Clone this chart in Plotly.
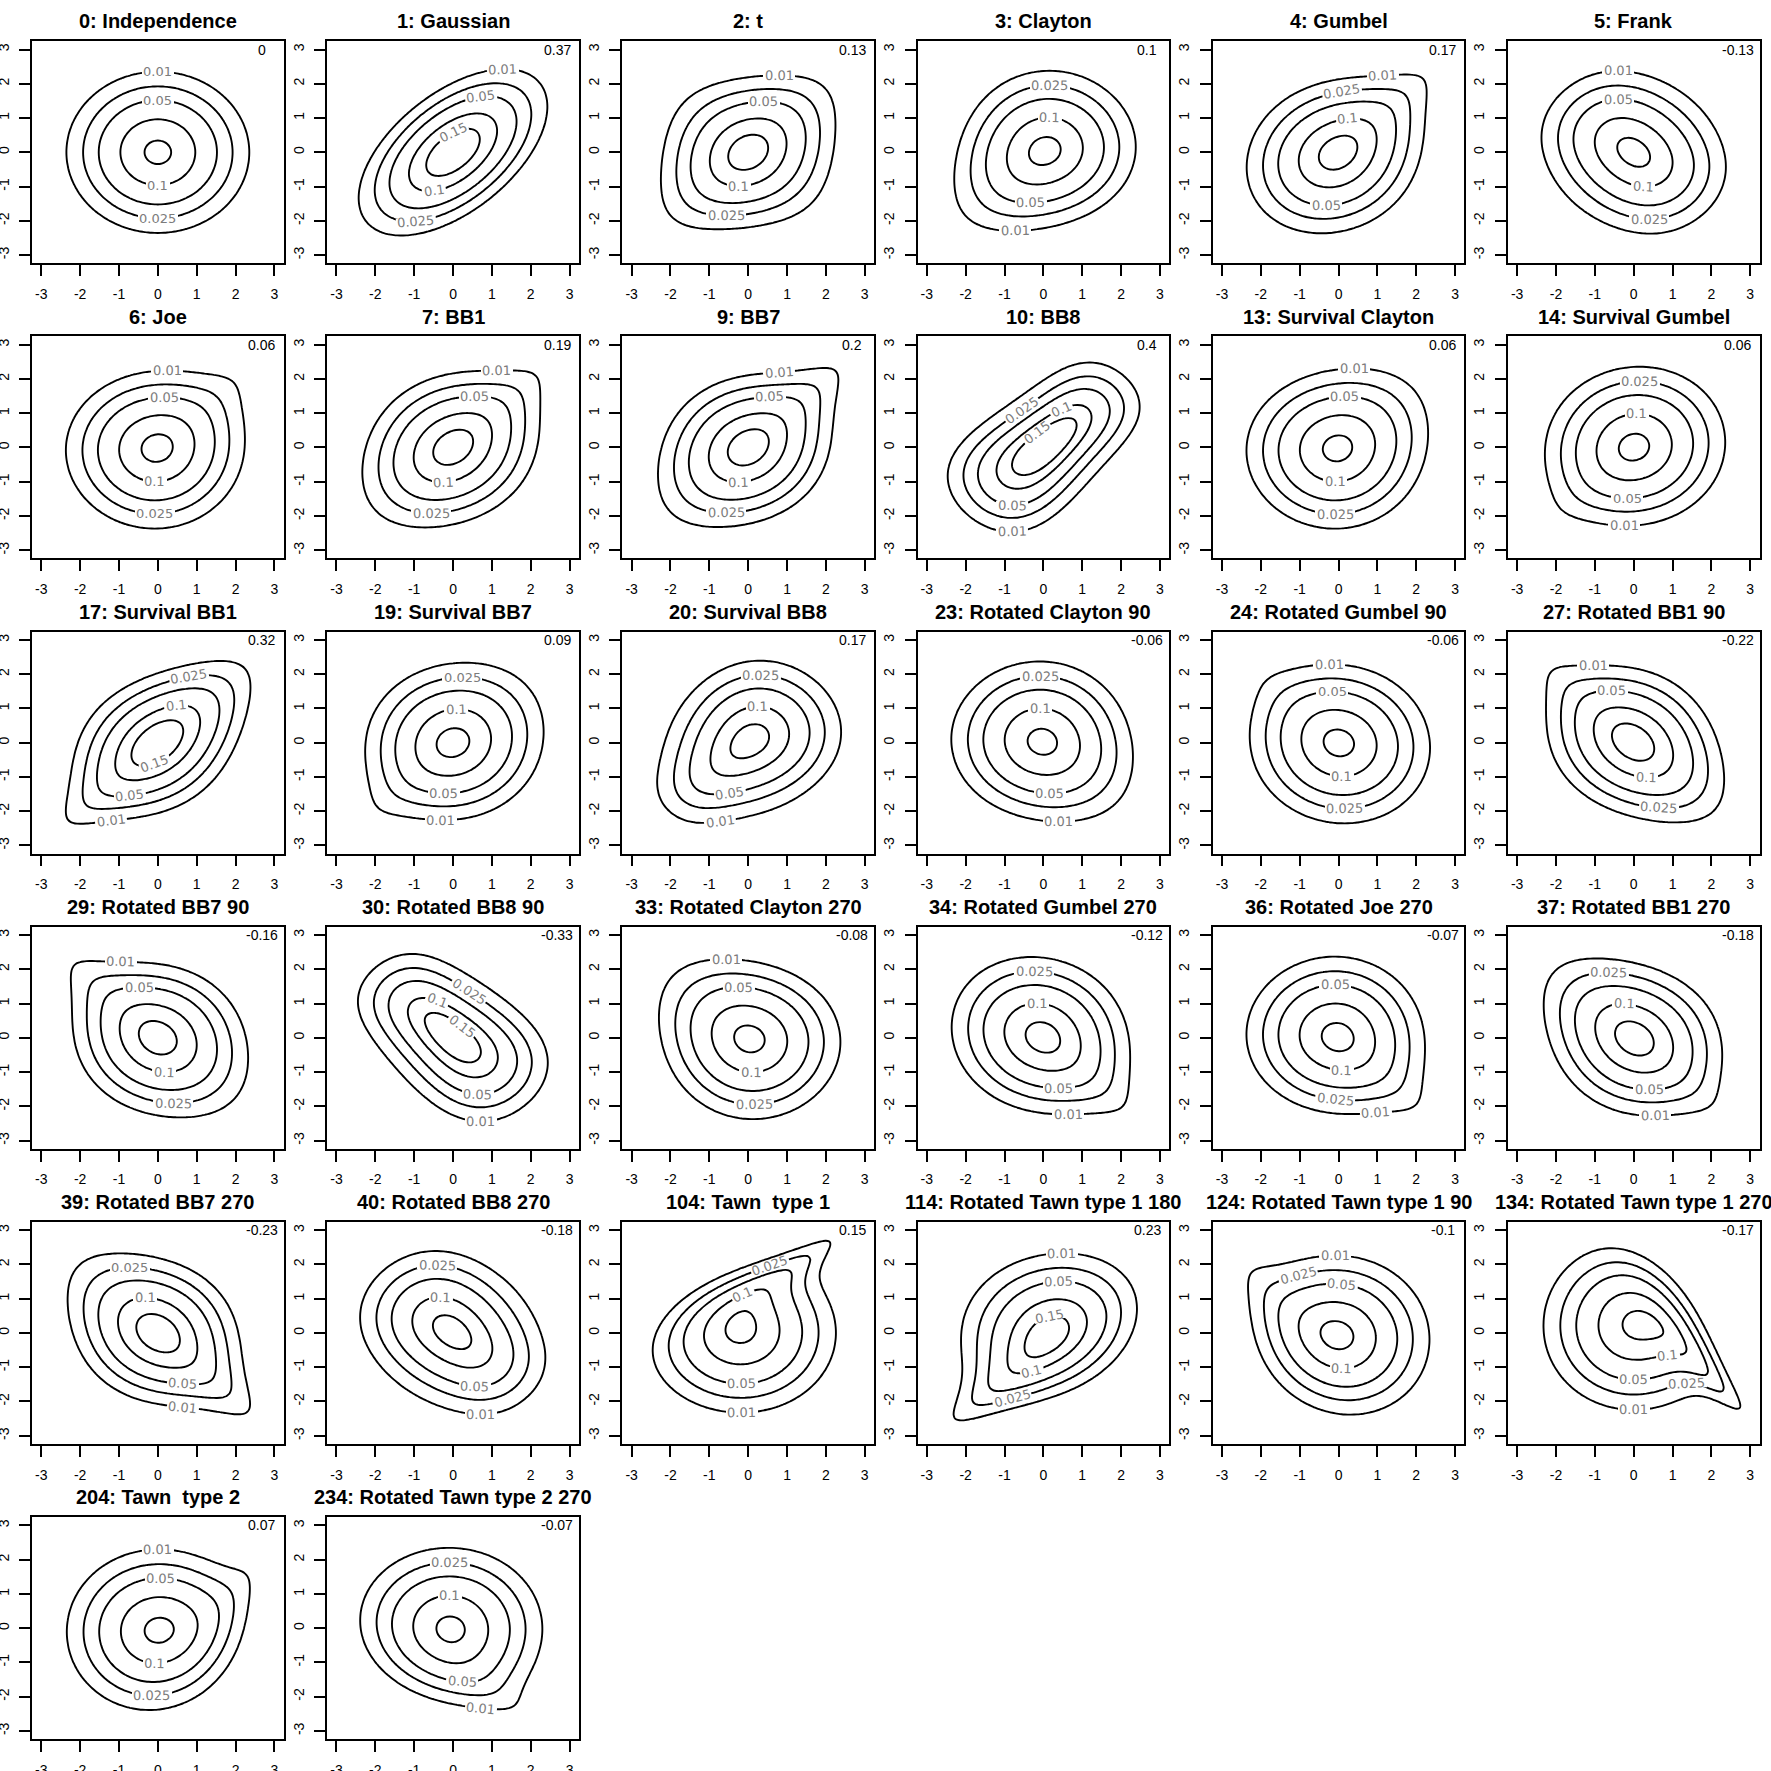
import math
import numpy as np
import plotly.graph_objects as go

# ---------------- data ----------------
FAMILIES = [0, 1, 2, 3, 4, 5, 6, 7, 9, 10, 13, 14, 17, 19, 20, 23, 24, 27,
            29, 30, 33, 34, 36, 37, 39, 40, 104, 114, 124, 134, 204, 234]
FAMILY_NAMES = ["Independence", "Gaussian", "t", "Clayton", "Gumbel", "Frank",
                "Joe", "BB1", "BB7", "BB8", "Survival Clayton", "Survival Gumbel",
                "Survival BB1", "Survival BB7", "Survival BB8", "Rotated Clayton 90",
                "Rotated Gumbel 90", "Rotated BB1 90", "Rotated BB7 90", "Rotated BB8 90",
                "Rotated Clayton 270", "Rotated Gumbel 270", "Rotated Joe 270",
                "Rotated BB1 270", "Rotated BB7 270", "Rotated BB8 270",
                "Tawn  type 1", "Rotated Tawn type 1 180", "Rotated Tawn type 1 90",
                "Rotated Tawn type 1 270", "Tawn  type 2", "Rotated Tawn type 2 270"]
TAU_LABELS = ["0", "0.37", "0.13", "0.1", "0.17", "-0.13", "0.06", "0.19", "0.2", "0.4",
              "0.06", "0.06", "0.32", "0.09", "0.17", "-0.06", "-0.06", "-0.22",
              "-0.16", "-0.33", "-0.08", "-0.12", "-0.07", "-0.18", "-0.23", "-0.18",
              "0.15", "0.23", "-0.1", "-0.17", "0.07", "-0.07"]
# estimated shape parameter of the families (t: df, BB1: theta, BB7: delta,
# BB8: theta, Tawn: psi); the remaining parameter follows from Kendall's tau
SHAPE_PAR = [0, 0, 7, 0, 0, 0, 0, 0.1, 0.2, 6.0, 0, 0, 0.3, 0.08, 1.6, 0, 0, 0.2,
             0.15, 5.0, 0, 0, 0, 0.2, 0.25, 3.0, 0.2, 0.5, 0.3, 0.22, 0.15, 0.15]
LEVELS = [0.01, 0.025, 0.05, 0.1, 0.15]
TICK_VALUES = [-3, -2, -1, 0, 1, 2, 3]
TICK_TEXT = ["-3", "-2", "-1", "0", "1", "2", "3"]

FONT = "Liberation Sans, Arial, Helvetica, sans-serif"
LABEL_FONT = "DejaVu Sans, Verdana, sans-serif"

# ---------------- helpers ----------------
_erfc = np.vectorize(math.erfc)


def Phi(x):
    return 0.5 * _erfc(-np.asarray(x, float) / math.sqrt(2.0))


def phi(x):
    return np.exp(-0.5 * x * x) / math.sqrt(2 * math.pi)


def decode(fam):
    if fam == 0:
        return 0, 0
    if fam >= 200:
        base, k = 204, (fam - 200) // 10
    elif fam >= 100:
        base, k = 104, (fam - 100) // 10
    else:
        k = (fam - 1) // 10
        base = fam - 10 * k
    return base, [0, 180, 90, 270][k]


def make_cdf(base, a, b):
    if base == 0:
        return lambda u, v: u * v
    if base == 3:
        return lambda u, v: (u ** (-a) + v ** (-a) - 1.0) ** (-1.0 / a)
    if base == 4:
        return lambda u, v: np.exp(-((-np.log(u)) ** a + (-np.log(v)) ** a) ** (1.0 / a))
    if base == 5:
        return lambda u, v: -np.log1p(np.expm1(-a * u) * np.expm1(-a * v) / np.expm1(-a)) / a
    if base == 6:
        def f(u, v):
            x = (1 - u) ** a
            y = (1 - v) ** a
            return 1 - (x + y - x * y) ** (1.0 / a)
        return f
    if base == 7:
        return lambda u, v: (1 + ((u ** (-a) - 1) ** b + (v ** (-a) - 1) ** b) ** (1.0 / b)) ** (-1.0 / a)
    if base == 9:
        def f(u, v):
            x = (1 - (1 - u) ** a) ** (-b)
            y = (1 - (1 - v) ** a) ** (-b)
            return 1 - (1 - (x + y - 1) ** (-1.0 / b)) ** (1.0 / a)
        return f
    if base == 10:
        eta = 1 - (1 - b) ** a

        def f(u, v):
            s = (1 - (1 - b * u) ** a) * (1 - (1 - b * v) ** a) / eta
            return (1 - (1 - s) ** (1.0 / a)) / b
        return f
    if base in (104, 204):
        p1, p2 = (b, 1.0) if base == 104 else (1.0, b)

        def f(u, v):
            lu = -np.log(u)
            lv = -np.log(v)
            return np.exp(-(1 - p1) * lu - (1 - p2) * lv
                          - ((p1 * lu) ** a + (p2 * lv) ** a) ** (1.0 / a))
        return f
    raise ValueError(base)


# numeric Kendall's tau (tau = 4 E[C(U,V)] - 1) on a normal-margin grid
_xe = np.linspace(-5, 5, 161)
_xc = 0.5 * (_xe[1:] + _xe[:-1])
_ue = Phi(_xe)
_uc = Phi(_xc)


def tau_num(cdf):
    F = cdf(_ue[:, None], _ue[None, :])
    P = F[1:, 1:] - F[1:, :-1] - F[:-1, 1:] + F[:-1, :-1]
    Cc = cdf(_uc[:, None], _uc[None, :])
    return 4.0 * np.sum(Cc * P) - 1.0


def bisect(fun, target, lo, hi, n=40):
    for _ in range(n):
        mid = 0.5 * (lo + hi)
        if fun(mid) < target:
            lo = mid
        else:
            hi = mid
    return 0.5 * (lo + hi)


def params_for(base, t, shape):
    if base == 0:
        return 0.0, 0.0
    if base in (1, 2):
        return math.sin(math.pi * t / 2), shape
    if base == 3:
        return 2 * t / (1 - t), 0.0
    if base == 4:
        return 1 / (1 - t), 0.0
    if base == 5:
        if t < 0:
            return bisect(lambda a: tau_num(make_cdf(5, a, 0)), t, -25.0, -1e-3), 0.0
        return bisect(lambda a: tau_num(make_cdf(5, a, 0)), t, 1e-3, 25.0), 0.0
    if base == 6:
        return bisect(lambda a: tau_num(make_cdf(6, a, 0)), t, 1.0, 25.0), 0.0
    if base == 7:
        return shape, 2 / ((1 - t) * (shape + 2))
    if base == 9:
        return bisect(lambda a: tau_num(make_cdf(9, a, shape)), t, 1.0, 6.0), shape
    if base == 10:
        return shape, bisect(lambda d: tau_num(make_cdf(10, shape, d)), t, 1e-3, 1.0)
    if base in (104, 204):
        s = bisect(lambda s: tau_num(make_cdf(base, math.exp(s), shape)), t, 0.0, math.log(80.0))
        return math.exp(s), shape
    raise ValueError(base)


# display grid
XS = np.linspace(-3.2, 3.2, 81)
HD = 0.02
_um = Phi(XS - HD / 2)
_up = Phi(XS + HD / 2)


def density_grid(base, a, b):
    X, Y = np.meshgrid(XS, XS, indexing="ij")
    if base == 1:
        r = a
        return np.exp(-(X * X - 2 * r * X * Y + Y * Y) / (2 * (1 - r * r))) / (2 * math.pi * math.sqrt(1 - r * r))
    if base == 2:
        r, nu = a, b
        tt = np.linspace(0, 80, 80001)
        c1 = math.gamma((nu + 1) / 2) / (math.sqrt(nu * math.pi) * math.gamma(nu / 2))
        pdf = c1 * (1 + tt * tt / nu) ** (-(nu + 1) / 2)
        cdf = 0.5 + np.concatenate([[0.0], np.cumsum(0.5 * (pdf[1:] + pdf[:-1]) * np.diff(tt))])
        q = np.sign(XS) * np.interp(Phi(np.abs(XS)), cdf, tt)
        Q1, Q2 = np.meshgrid(q, q, indexing="ij")
        f2 = (1 + (Q1 * Q1 - 2 * r * Q1 * Q2 + Q2 * Q2) / (nu * (1 - r * r))) ** (-(nu + 2) / 2) \
            / (2 * math.pi * math.sqrt(1 - r * r))
        f1 = lambda z: c1 * (1 + z * z / nu) ** (-(nu + 1) / 2)
        return f2 / (f1(Q1) * f1(Q2)) * phi(X) * phi(Y)
    C = make_cdf(base, a, b)
    G = (C(_up[:, None], _up[None, :]) - C(_up[:, None], _um[None, :])
         - C(_um[:, None], _up[None, :]) + C(_um[:, None], _um[None, :])) / (HD * HD)
    return G


def rotate(G, rot):
    if rot == 180:
        return G[::-1, ::-1]
    if rot == 90:
        return G[:, ::-1].T
    if rot == 270:
        return G[::-1, :].T
    return G


# contour level groups (plotly needs evenly spaced levels per trace)
LEVEL_GROUPS = [[LEVELS[0]], [LEVELS[1]], LEVELS[2:]]

# ---------------- layout geometry ----------------
W = H = 1771
CELL = W / 6.0
BOX_L, BOX_W = 32.0, 251.7
BOX_T, BOX_H = 41.3, 222.0
RNG = [-3.24, 3.24]
SX = BOX_W / (RNG[1] - RNG[0])
SY = BOX_H / (RNG[1] - RNG[0])

LABEL_FS = 13
LABEL_COLOR = "#7c7c7c"
CHAR_W = {".": 0.318}
PERIM_FACTOR = 4.55
TILT_COST = 1.2


# ---------------- contour labels (R "flattest"-like placement) ----------------
def crossings(G, L, arrs):
    D = G - L
    i, j = np.nonzero(D[:-1, :] * D[1:, :] < 0)
    t = D[i, j] / (D[i, j] - D[i + 1, j])
    xa = XS[i] + t * (XS[i + 1] - XS[i])
    ya = XS[j]
    va = [A[i, j] + t * (A[i + 1, j] - A[i, j]) for A in arrs]
    i2, j2 = np.nonzero(D[:, :-1] * D[:, 1:] < 0)
    t2 = D[i2, j2] / (D[i2, j2] - D[i2, j2 + 1])
    xb = XS[i2]
    yb = XS[j2] + t2 * (XS[j2 + 1] - XS[j2])
    vb = [A[i2, j2] + t2 * (A[i2, j2 + 1] - A[i2, j2]) for A in arrs]
    return (np.r_[xa, xb], np.r_[ya, yb], [np.r_[p, q] for p, q in zip(va, vb)])


def rect(cx, cy, ang, w, h):
    c, s = math.cos(ang), math.sin(ang)
    pts = []
    for dx, dy in ((-w / 2, -h / 2), (w / 2, -h / 2), (w / 2, h / 2), (-w / 2, h / 2)):
        pts.append((cx + dx * c - dy * s, cy + dx * s + dy * c))
    return pts


def overlap(r1, r2):
    for rr in (r1, r2):
        for k in range(2):
            ex = rr[k + 1][0] - rr[k][0]
            ey = rr[k + 1][1] - rr[k][1]
            nx, ny = -ey, ex
            p1 = [px * nx + py * ny for px, py in r1]
            p2 = [px * nx + py * ny for px, py in r2]
            if max(p1) < min(p2) or max(p2) < min(p1):
                return False
    return True


def label_width(txt):
    return LABEL_FS * sum(CHAR_W.get(ch, 0.636) for ch in txt)


def place_labels(G, xa, ya, annotations):
    gx, gy = np.gradient(G, XS, XS)
    gxx, gxy = np.gradient(gx, XS, XS)
    gyy = np.gradient(gy, XS, XS)[1]
    im = np.unravel_index(np.argmax(G), G.shape)
    xm, ym = XS[im[0]], XS[im[1]]
    placed = []
    lim_x = RNG[1] * SX - 3
    lim_y = RNG[1] * SY - 3
    for L in LEVELS:
        txt = f"{L:g}"
        w = label_width(txt)
        x, y, (fx, fy, fxx, fxy, fyy) = crossings(G, L, [gx, gy, gxx, gxy, gyy])
        if len(x) < 6:
            continue
        PX, PY = x * SX, y * SY
        o = np.argsort(np.arctan2(PY - ym * SY, PX - xm * SX))
        qx, qy = PX[o], PY[o]
        perim = float(np.sum(np.hypot(np.diff(np.r_[qx, qx[0]]), np.diff(np.r_[qy, qy[0]]))))
        if perim < PERIM_FACTOR * w:
            continue
        fX, fY = fx / SX, fy / SY
        fXX, fYY, fXY = fxx / SX ** 2, fyy / SY ** 2, fxy / (SX * SY)
        kap = np.abs(fXX * fY ** 2 - 2 * fXY * fX * fY + fYY * fX ** 2) / \
            np.maximum((fX ** 2 + fY ** 2) ** 1.5, 1e-300)
        Wm = np.hypot(PX[:, None] - PX[None, :], PY[:, None] - PY[None, :]) <= w / 2
        turn = w * (Wm * kap[None, :]).sum(1) / Wm.sum(1)
        angs = np.arctan2(fX, -fY)
        angs = np.where(angs > math.pi / 2, angs - math.pi, angs)
        angs = np.where(angs <= -math.pi / 2, angs + math.pi, angs)
        score = turn + TILT_COST * np.abs(np.sin(angs)) - 0.002 * y
        for idx in np.argsort(score):
            ang = float(angs[idx])
            rr = rect(PX[idx], PY[idx], ang, w + 6, 20)
            if any(abs(px) > lim_x or abs(py) > lim_y for px, py in rr):
                continue
            if any(overlap(rr, q) for q in placed):
                continue
            placed.append(rr)
            deg = -math.degrees(ang)
            annotations.append(dict(
                xref=xa, yref=ya, x=float(x[idx]), y=float(y[idx]), text=" ",
                width=w + 3, height=9, bgcolor="white", borderpad=0, borderwidth=0,
                textangle=deg, showarrow=False, xanchor="center", yanchor="middle",
                font=dict(size=4)))
            annotations.append(dict(
                xref=xa, yref=ya, x=float(x[idx]), y=float(y[idx]), text=txt,
                textangle=deg, showarrow=False, xanchor="center", yanchor="middle",
                font=dict(size=LABEL_FS, color=LABEL_COLOR, family=LABEL_FONT)))
            break


fig = go.Figure()
annotations = []
layout_axes = {}

with np.errstate(all="ignore"):
    for k, fam in enumerate(FAMILIES):
        r, c = divmod(k, 6)
        n = k + 1
        xa = "x" if n == 1 else f"x{n}"
        ya = "y" if n == 1 else f"y{n}"
        base, rot = decode(fam)
        tau = float(TAU_LABELS[k])
        tau_eff = -tau if rot in (90, 270) else tau
        a, b = params_for(base, tau_eff, SHAPE_PAR[k])
        G = np.ascontiguousarray(rotate(density_grid(base, a, b), rot))
        Z = np.ascontiguousarray(G.T).astype(np.float32)

        for grp in LEVEL_GROUPS:
            start, end = grp[0], grp[-1]
            size = (end - start) / (len(grp) - 1) if len(grp) > 1 else 1.0
            fig.add_trace(go.Contour(
                x=XS, y=XS, z=Z, xaxis=xa, yaxis=ya,
                autocontour=False,
                contours=dict(start=start, end=end, size=size, coloring="none",
                              showlabels=False),
                line=dict(color="black", width=1.9, smoothing=1.0),
                showscale=False, hoverinfo="skip"))

        x0 = (BOX_L + c * CELL) / W
        x1 = x0 + BOX_W / W
        top = BOX_T + r * CELL
        y1 = 1 - top / H
        y0 = 1 - (top + BOX_H) / H
        common = dict(range=RNG, tickvals=TICK_VALUES, ticktext=TICK_TEXT,
                      ticks="outside", ticklen=11, tickwidth=1.6, tickcolor="black",
                      showline=True, mirror=True, linecolor="black", linewidth=1.7,
                      showgrid=False, zeroline=False, fixedrange=True, automargin=False,
                      tickfont=dict(size=14, color="black", family=FONT))
        layout_axes["xaxis" if n == 1 else f"xaxis{n}"] = dict(
            domain=[x0, x1], anchor=ya, ticklabelstandoff=6, **common)
        layout_axes["yaxis" if n == 1 else f"yaxis{n}"] = dict(
            domain=[y0, y1], anchor=xa, tickangle=-90, ticklabelstandoff=5, **common)

        place_labels(G, xa, ya, annotations)

        annotations.append(dict(
            xref="paper", yref="paper", x=(x0 + x1) / 2, y=1 - (r * CELL + 21.5) / H,
            xanchor="center", yanchor="middle", showarrow=False,
            text=f"<b>{fam}: {FAMILY_NAMES[k]}</b>",
            font=dict(size=20, color="black", family=FONT)))
        annotations.append(dict(
            xref=xa, yref=ya, x=2.68, y=3.0, xanchor="center", yanchor="middle",
            showarrow=False, text=TAU_LABELS[k],
            font=dict(size=14, color="black", family=FONT)))

fig.update_layout(width=W, height=H,
                  margin=dict(l=0, r=0, t=0, b=0, pad=0, autoexpand=False),
                  paper_bgcolor="white", plot_bgcolor="white", showlegend=False,
                  font=dict(family=FONT), annotations=annotations, **layout_axes)

fig.write_html("out.html")
